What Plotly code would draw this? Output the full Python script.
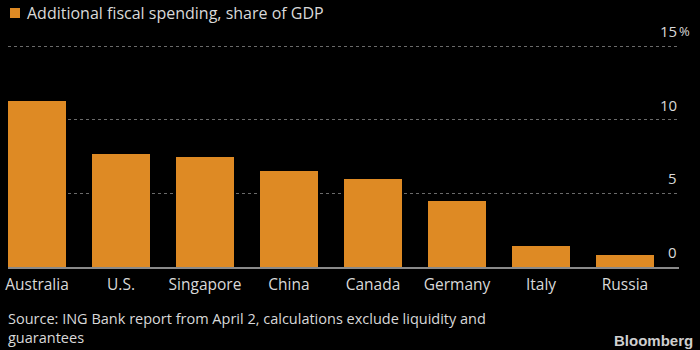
import plotly.graph_objects as go

countries = ["Australia", "U.S.", "Singapore", "China", "Canada", "Germany", "Italy", "Russia"]
spending = [11.3, 7.65, 7.45, 6.55, 6.0, 4.5, 1.4, 0.8]
series_name = "Additional fiscal spending, share of GDP"
y_ticks = [0, 5, 10, 15]
y_tick_labels = ["0", "5", "10", "15"]
source_lines = ["Source: ING Bank report from April 2, calculations exclude liquidity and",
                "guarantees"]

BAR = "#DE8A24"
TXT = "#D9D9D9"
FONT = "Open Sans"

fig = go.Figure()
fig.add_trace(go.Bar(
    x=list(range(len(countries))), y=spending, name=series_name,
    marker=dict(color=BAR, line=dict(width=0)), width=0.69, showlegend=False,
))

fig.update_layout(
    width=700, height=350,
    paper_bgcolor="black", plot_bgcolor="black",
    margin=dict(l=8, r=21, t=40, b=83, autoexpand=False),
    font=dict(family=FONT, size=14, color=TXT),
    bargap=0,
    xaxis=dict(
        range=[-0.345, 7.643], tickvals=list(range(len(countries))), ticktext=countries,
        showgrid=False, zeroline=False, showline=True, linecolor="#8a8a8a", linewidth=2,
        ticks="", tickfont=dict(size=15.5, color=TXT), fixedrange=True,
        ticklabelstandoff=2, automargin=False,
    ),
    yaxis=dict(
        range=[0, 15.41], tickvals=y_ticks, showticklabels=False,
        showgrid=True, gridcolor="#6a6a6a", griddash="dot", gridwidth=1,
        zeroline=False, ticks="", automargin=False,
    ),
)

ann = []
for v, t in zip(y_ticks, y_tick_labels):
    ann.append(dict(x=1, xref="paper", y=v, yref="y", text=t, showarrow=False,
                    xanchor="right", yanchor="middle", yshift=15,
                    font=dict(size=15, color=TXT)))
ann.append(dict(x=1, xref="paper", y=y_ticks[-1], yref="y", text="%", showarrow=False,
                xanchor="left", yanchor="middle", yshift=15, xshift=-2,
                font=dict(size=13, color=TXT)))
fig.update_layout(annotations=ann)

def py(pix):
    return (267 - pix) / 227

def px(pix):
    return (pix - 8) / 671

# legend swatch + label
fig.add_shape(type="rect", xref="paper", yref="paper",
              x0=px(10), x1=px(20), y0=py(18), y1=py(8),
              fillcolor=BAR, line=dict(width=0))
fig.add_annotation(x=px(26), xref="paper", y=py(13), yref="paper",
                   text=series_name, showarrow=False, xanchor="left", yanchor="middle",
                   xshift=-1, font=dict(size=16, color=TXT))

fig.add_annotation(x=0, xref="paper", y=py(327.5), yref="paper",
                   text="<br>".join(source_lines), showarrow=False, xanchor="left",
                   yanchor="middle", align="left", xshift=-1, borderpad=0,
                   font=dict(size=14.5, color=TXT))
fig.add_annotation(x=px(694), xref="paper", y=py(341), yref="paper",
                   text="<b>Bloomberg</b>", showarrow=False, xanchor="right", yanchor="middle",
                   xshift=1, font=dict(family="Liberation Sans", size=15, color="#CFCFCF"))

fig.write_html("out.html")
